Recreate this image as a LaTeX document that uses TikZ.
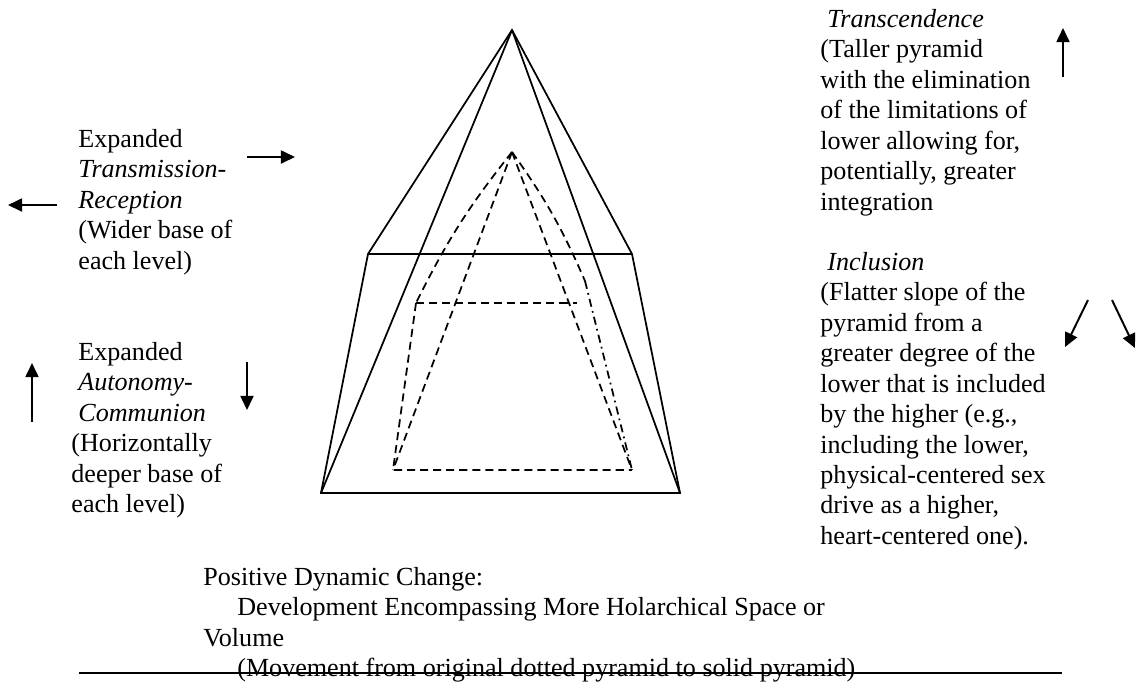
\documentclass[tikz,border=0pt]{standalone}
\usepackage{fontspec}
\setmainfont{Liberation Serif}
\usetikzlibrary{arrows.meta}
\begin{document}
\begin{tikzpicture}[x=0.46pt,y=-0.46pt,
  pyr/.style={line width=0.8pt, line join=miter},
  dashline/.style={line width=0.8pt, dash pattern=on 3.7pt off 2.3pt},
  dashdotline/.style={line width=0.8pt, dash pattern=on 3.7pt off 2pt on 0.8pt off 2pt},
  arr/.style={line width=0.9pt, -{Triangle[length=6.5pt,width=6pt]}},
  txt/.style={anchor=north west, inner sep=0pt, align=left, font=\fontsize{12}{14}\selectfont},
  rule/.style={line width=0.9pt}]
\useasboundingbox (0,0) rectangle (1139,686);

% solid pyramid
\coordinate (A) at (512,30);
\coordinate (LS) at (368,254);
\coordinate (RS) at (632,254);
\coordinate (BL) at (321,493);
\coordinate (BR) at (680,493);
\draw[pyr] (A) -- (LS) -- (BL) -- (BR) -- (RS) -- cycle;
\draw[pyr] (LS) -- (RS);
\draw[pyr] (A) -- (BL);
\draw[pyr] (A) -- (BR);

% dashed pyramid
\coordinate (a) at (512,152);
\coordinate (ls) at (416,303);
\coordinate (hr) at (577,303);
\coordinate (rs) at (585,281);
\coordinate (bl) at (393,470);
\coordinate (br) at (632,470);
\draw[dashline] (a) to[bend right=6] (ls);
\draw[dashline] (a) to[bend left=6] (rs);
\draw[dashline] (a) -- (bl);
\draw[dashline] (a) -- (br);
\draw[dashline] (ls) -- (hr);
\draw[dashline] (ls) -- (bl) -- (br);
\draw[dashdotline] (rs) -- (br);

% texts
\node[txt] (trans) at (820,5.7) {\strut\hspace*{3.2pt}\textit{Transcendence}\\
(Taller pyramid\\
with the elimination\\
of the limitations of\\
lower allowing for,\\
potentially, greater\\
integration};

\node[txt] (incl) at (820,248.7) {\strut\hspace*{3.2pt}\textit{Inclusion}\\
(Flatter slope of the\\
pyramid from a\\
greater degree of the\\
lower that is included\\
by the higher (e.g.,\\
including the lower,\\
physical-centered sex\\
drive as a higher,\\
heart-centered one).};

\node[txt] (tr) at (78,125.7) {\strut Expanded\\
\textit{Transmission-}\\
\textit{Reception}\\
(Wider base of\\
each level)};

\node[txt] (au) at (71,338.7) {\strut\hspace*{3.2pt}Expanded\\
\hspace*{3.2pt}\textit{Autonomy-}\\
\hspace*{3.2pt}\textit{Communion}\\
(Horizontally\\
deeper base of\\
each level)};

\node[txt] (pdc) at (203,563.5) {\strut Positive Dynamic Change:\\
\hspace*{15.6pt}Development Encompassing More Holarchical Space or\\
Volume\\
\hspace*{15.6pt}(Movement from original dotted pyramid to solid pyramid)};

% arrows
\coordinate (t1) at (1063,77);  \coordinate (t2) at (1063,28);
\coordinate (i1a) at (1088,300); \coordinate (i1b) at (1065,347);
\coordinate (i2a) at (1112,300); \coordinate (i2b) at (1135,348);
\coordinate (r1) at (247,157); \coordinate (r2) at (295,157);
\coordinate (l1) at (57,205); \coordinate (l2) at (8,205);
\coordinate (u1) at (32,422); \coordinate (u2) at (32,363);
\coordinate (d1) at (247,362); \coordinate (d2) at (247,410);
\draw[arr] (t1) -- (t2);
\draw[arr] (i1a) -- (i1b);
\draw[arr] (i2a) -- (i2b);
\draw[arr] (r1) -- (r2);
\draw[arr] (l1) -- (l2);
\draw[arr] (u1) -- (u2);
\draw[arr] (d1) -- (d2);

% rule
\coordinate (ru1) at (79,673);
\coordinate (ru2) at (1062,673);
\draw[rule] (ru1) -- (ru2);
\end{tikzpicture}
\end{document}
